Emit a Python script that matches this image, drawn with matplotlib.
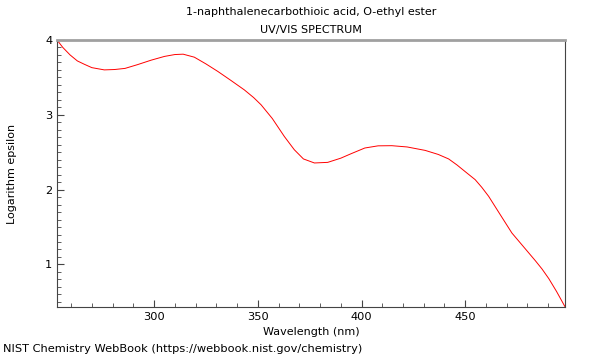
# UV/VIS spectrum plot, NIST webbook style

import matplotlib
matplotlib.use('Agg')
import matplotlib.pyplot as plt
from matplotlib.ticker import MultipleLocator

# values
wavelength = [253.2, 256, 259.5, 263, 266.3, 270, 276, 281, 286, 292, 298.6, 305, 310,
              314, 319.4, 325, 330.7, 337, 343.5, 348, 351.6, 357, 362.8, 367.6, 372,
              377.3, 383.7, 390, 395, 401.6, 408, 414.6, 422, 430.7, 437, 442, 446,
              450, 454.8, 458, 461.3, 467, 472.5, 478, 483.8, 487, 490.3, 494, 498.2]
log_eps = [4.0, 3.9, 3.8, 3.72, 3.676, 3.63, 3.6, 3.605, 3.62, 3.67, 3.73, 3.78, 3.805,
           3.81, 3.77, 3.68, 3.58, 3.46, 3.333, 3.23, 3.133, 2.95, 2.71, 2.533, 2.41,
           2.356, 2.364, 2.42, 2.48, 2.556, 2.585, 2.587, 2.57, 2.524, 2.47, 2.41, 2.33,
           2.24, 2.133, 2.03, 1.91, 1.66, 1.42, 1.24, 1.05, 0.94, 0.81, 0.64, 0.43]

title = "1-naphthalenecarbothioic acid, O-ethyl ester\nUV/VIS SPECTRUM"

fig = plt.figure(figsize=(6, 3.6), dpi=100)
ax = fig.add_subplot(111)
fig.subplots_adjust(left=0.095, right=0.942, top=0.889, bottom=0.147)

ax.plot(wavelength, log_eps, color='red', linewidth=0.7)
ax.set_xlim(min(wavelength), max(wavelength))
ax.set_ylim(min(log_eps), max(log_eps))

ax.xaxis.set_major_locator(MultipleLocator(50))
ax.xaxis.set_minor_locator(MultipleLocator(10))
ax.yaxis.set_major_locator(MultipleLocator(1))
ax.yaxis.set_minor_locator(MultipleLocator(0.1))
ax.tick_params(which='both', direction='in', labelsize=8.2, color='#444444')
ax.tick_params(which='major', length=5)
ax.tick_params(which='minor', length=3)

ax.spines['top'].set_color('#a0a0a0')
ax.spines['top'].set_linewidth(2)
for s in ('left', 'bottom', 'right'):
    ax.spines[s].set_color('#444444')
    ax.spines[s].set_linewidth(0.8)

ax.set_title(title, fontsize=8, linespacing=2.0, pad=5)
ax.set_xlabel("Wavelength (nm)", fontsize=8, labelpad=4)
ax.set_ylabel("Logarithm epsilon", fontsize=8, labelpad=20)
fig.text(0.005, 0.022, "NIST Chemistry WebBook (https://webbook.nist.gov/chemistry)", fontsize=8.2)

fig.savefig('out.png', dpi=100)
